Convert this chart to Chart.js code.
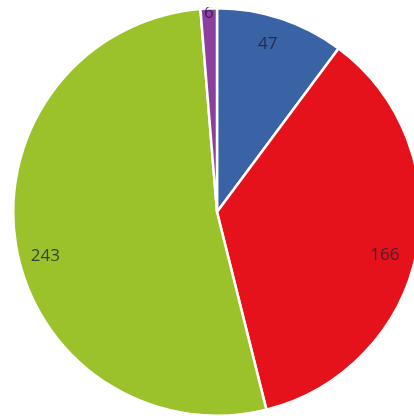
<!DOCTYPE html>
<html lang="en">
<head>
  <meta charset="UTF-8" />
  <title>Pie</title>
  <script src="https://cdn.jsdelivr.net/npm/chart.js"></script>
  <style>
    html, body { margin: 0; padding: 0; background: #fff; overflow: hidden; }
    body { width: 414px; height: 416px; position: relative; }
    #wrap { position: absolute; left: 12px; top: 7px; width: 410px; height: 410px; }
  </style>
</head>
<body>
  <div id="wrap"><canvas id="pie"></canvas></div>

  <script>
    const categories = ['A', 'B', 'C', 'D'];
    const values = [47, 166, 243, 6];
    const colors = ['#3a63a6', '#e5121b', '#9bc22a', '#8b3f9e'];

    // label placement: share of the radius, and a small turn (degrees) off the slice middle
    const labelRadius = [0.86, 0.85, 0.87, 0.975];
    const labelTurn = [-1.5, 3, -5, 0];

    const valueLabels = {
      id: 'valueLabels',
      afterDatasetsDraw(chart) {
        const ctx = chart.ctx;
        const meta = chart.getDatasetMeta(0);
        ctx.save();
        ctx.font = '17px "Open Sans", sans-serif';
        ctx.fillStyle = 'rgba(30,30,55,0.8)';
        ctx.textAlign = 'center';
        ctx.textBaseline = 'middle';
        meta.data.forEach((arc, i) => {
          const mid = (arc.startAngle + arc.endAngle) / 2 + labelTurn[i] * Math.PI / 180;
          const r = arc.outerRadius * labelRadius[i];
          ctx.fillText(String(values[i]), arc.x + Math.cos(mid) * r, arc.y + Math.sin(mid) * r);
        });
        ctx.restore();
      }
    };

    new Chart(document.getElementById('pie'), {
      type: 'pie',
      data: {
        labels: categories,
        datasets: [{
          data: values,
          backgroundColor: colors,
          borderColor: '#ffffff',
          borderWidth: 2.5
        }]
      },
      options: {
        responsive: true,
        maintainAspectRatio: false,
        animation: false,
        plugins: { legend: { display: false }, tooltip: { enabled: false } }
      },
      plugins: [valueLabels]
    });
  </script>
</body>
</html>
